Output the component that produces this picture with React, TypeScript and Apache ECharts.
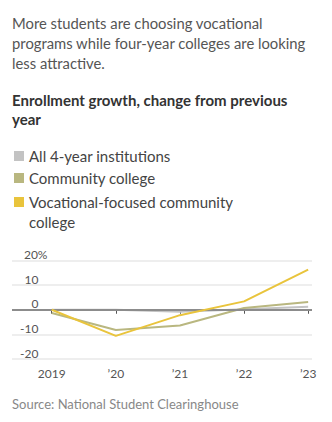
import React, { useEffect, useRef } from "react";
import * as echarts from "echarts";

const years = [2019, 2020, 2021, 2022, 2023];
const allFourYear = [0, 0, -0.8, 0.2, 1.2];
const communityCollege = [-1.3, -8.2, -6.4, 0.7, 3.1];
const vocational = [0, -10.6, -2.2, 3.4, 16.3];
const yTicks = [-20, -10, 0, 10, 20];

const seriesNames = [
  "All 4-year institutions",
  "Community college",
  "Vocational-focused community college",
];
const seriesColors = ["#c3c3c3", "#b9b780", "#e9c43c"];

const FONT = "Lato, 'Noto Sans', sans-serif";

export default function App() {
  const ref = useRef<HTMLDivElement>(null);

  useEffect(() => {
    document.body.style.margin = "0";
    if (!ref.current) return;
    const chart = echarts.init(ref.current, null, { renderer: "svg" });
    const toPairs = (vals: number[]) => years.map((y, i) => [y, vals[i]]);
    const datasets = [allFourYear, communityCollege, vocational];

    chart.setOption({
      animation: false,
      textStyle: { fontFamily: FONT },
      title: [
        {
          text: "More students are choosing vocational\nprograms while four-year colleges are looking\nless attractive.",
          left: 12,
          top: 12.5,
          padding: 0,
          textStyle: {
            fontFamily: FONT,
            fontSize: 14.8,
            fontWeight: "normal",
            color: "#555555",
            lineHeight: 20,
          },
        },
        {
          text: "Enrollment growth, change from previous\nyear",
          left: 12,
          top: 90,
          padding: 0,
          textStyle: {
            fontFamily: FONT,
            fontSize: 15,
            fontWeight: "bold",
            color: "#333333",
            lineHeight: 19.5,
          },
        },
        {
          text: "Source: National Student Clearinghouse",
          left: 12,
          top: 396,
          padding: 0,
          textStyle: {
            fontFamily: FONT,
            fontSize: 13,
            fontWeight: "normal",
            color: "#888888",
            lineHeight: 16,
          },
        },
      ],
      legend: [
        {
          data: [seriesNames[0], seriesNames[1]],
          orient: "vertical",
          left: 14,
          top: 146,
          padding: 0,
          itemGap: 2,
          itemWidth: 10,
          itemHeight: 10,
          icon: "rect",
          selectedMode: false,
          textStyle: {
            fontFamily: FONT,
            fontSize: 15,
            color: "#444444",
            lineHeight: 20,
          },
        },
        {
          data: [seriesNames[2]],
          orient: "vertical",
          left: 14,
          top: 172,
          padding: 0,
          itemWidth: 10,
          itemHeight: 10,
          icon: "rect",
          selectedMode: false,
          formatter: () => "{e| }\nVocational-focused community\ncollege",
          textStyle: {
            fontFamily: FONT,
            fontSize: 15,
            color: "#444444",
            lineHeight: 20,
            rich: {
              e: { fontFamily: FONT, fontSize: 15, lineHeight: 20 },
            },
          },
        },
      ],
      grid: { left: 12, right: 20, top: 260.5, bottom: 63, containLabel: false },
      xAxis: {
        type: "value",
        min: 2018.38,
        max: 2023.06,
        splitLine: { show: false },
        axisLine: { show: false },
        axisTick: {
          show: true,
          length: 4,
          customValues: years,
          lineStyle: { color: "#555555", width: 1 },
        },
        axisLabel: {
          customValues: years,
          margin: 8,
          fontFamily: FONT,
          fontSize: 12,
          color: "#555555",
          formatter: (v: number) =>
            v === years[0] ? String(v) : "\u2019" + String(v).slice(2),
        },
      },
      yAxis: {
        type: "value",
        min: yTicks[0],
        max: yTicks[yTicks.length - 1],
        interval: 10,
        axisLine: { show: false },
        axisTick: { show: false },
        splitLine: { show: true, lineStyle: { color: "#e8e8e8", width: 1.5 } },
        axisLabel: {
          margin: -35.5,
          align: "right",
          verticalAlign: "bottom",
          fontFamily: FONT,
          fontSize: 12,
          color: "#555555",
          formatter: (v: number) =>
            v === yTicks[yTicks.length - 1] ? "{p|" + v + "%}" : "{n|" + v + "}",
          rich: {
            p: { fontFamily: FONT, fontSize: 12, color: "#555555", padding: [0, 0, 0, 0] },
            n: { fontFamily: FONT, fontSize: 12, color: "#555555", padding: [0, 9, 0, 0] },
          },
        },
      },
      series: datasets.map((vals, i) => ({
        name: seriesNames[i],
        type: "line",
        data: toPairs(vals),
        symbol: "none",
        lineStyle: { color: seriesColors[i], width: 2 },
        itemStyle: { color: seriesColors[i] },
        z: 3 + i,
        markLine:
          i === 0
            ? {
                silent: true,
                symbol: "none",
                label: { show: false },
                lineStyle: { color: "#8c8c8c", width: 2, type: "solid" },
                data: [{ yAxis: 0 }],
              }
            : undefined,
      })),
    });
    return () => chart.dispose();
  }, []);

  return <div ref={ref} style={{ width: 332, height: 422 }} />;
}
